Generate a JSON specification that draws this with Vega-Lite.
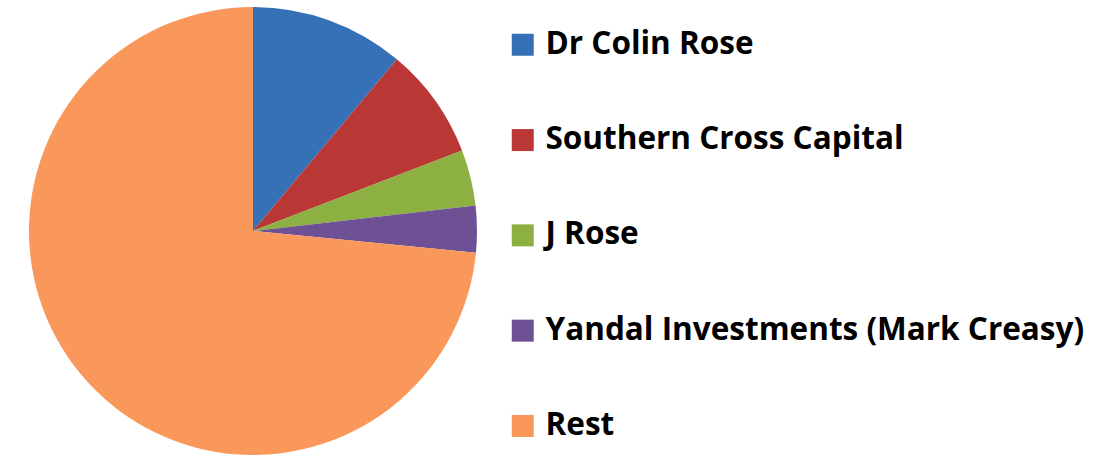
{
  "$schema": "https://vega.github.io/schema/vega-lite/v6.json",
  "width": 506,
  "height": 462,
  "padding": 0,
  "autosize": {"type": "pad"},
  "background": "white",
  "data": {
    "values": [
      {"holder": "Dr Colin Rose", "share": 11.1, "idx": 1},
      {"holder": "Southern Cross Capital", "share": 8.05, "idx": 2},
      {"holder": "J Rose", "share": 4.03, "idx": 3},
      {"holder": "Yandal Investments (Mark Creasy)", "share": 3.36, "idx": 4},
      {"holder": "Rest", "share": 73.46, "idx": 5}
    ]
  },
  "mark": {"type": "arc", "outerRadius": 224, "stroke": null},
  "encoding": {
    "theta": {"field": "share", "type": "quantitative", "stack": true},
    "order": {"field": "idx", "type": "quantitative"},
    "color": {
      "field": "holder",
      "type": "nominal",
      "sort": null,
      "scale": {
        "domain": ["Dr Colin Rose", "Southern Cross Capital", "J Rose", "Yandal Investments (Mark Creasy)", "Rest"],
        "range": ["#3670b6", "#b93836", "#8db042", "#6e5095", "#fa985b"]
      },
      "legend": {
        "title": null,
        "orient": "none",
        "legendX": 507,
        "legendY": 29,
        "symbolType": "square",
        "symbolSize": 484,
        "symbolStrokeWidth": 0,
        "symbolOpacity": 1,
        "labelFont": "Open Sans",
        "labelFontWeight": "bold",
        "labelFontSize": 31.5,
        "labelColor": "black",
        "labelLimit": 0,
        "labelOffset": 7,
        "rowPadding": 62.3,
        "padding": 0
      }
    }
  },
  "config": {"view": {"stroke": null}}
}
